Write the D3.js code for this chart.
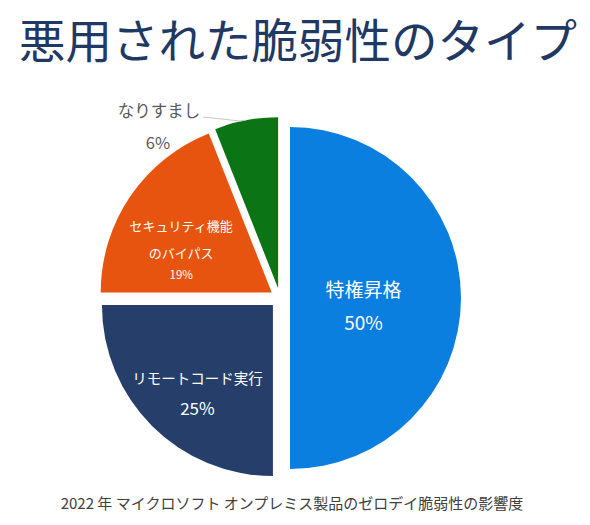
<!DOCTYPE html>
<html>
<head>
<meta charset="utf-8">
<script src="https://cdn.jsdelivr.net/npm/d3@7"></script>
<style>
  body { margin: 0; background: #fff; }
  text { font-family: "Noto Sans CJK JP", "Noto Sans", sans-serif; }
</style>
</head>
<body>
<div id="chart"></div>
<script>
// Data
var categories = ["特権昇格", "リモートコード実行", "セキュリティ機能のバイパス", "なりすまし"];
var values = [50, 25, 19, 6];
var labelLines = [["特権昇格"], ["リモートコード実行"], ["セキュリティ機能", "のバイパス"], ["なりすまし"]];
var colors = ["#0a7fe0", "#263f6a", "#e6540f", "#0b7414"];

var svgWidth = 590;
var svgHeight = 525;

var svg = d3.select("#chart")
  .append("svg")
  .attr("width", svgWidth)
  .attr("height", svgHeight);

// Title
svg.append("text")
  .attr("x", 298)
  .attr("y", 58)
  .attr("text-anchor", "middle")
  .attr("fill", "#1f3864")
  .attr("font-size", 46.5)
  .text("悪用された脆弱性のタイプ");

// Caption
svg.append("text")
  .attr("x", 292)
  .attr("y", 509)
  .attr("text-anchor", "middle")
  .attr("fill", "#404040")
  .attr("font-size", 15)
  .text("2022 年 マイクロソフト オンプレミス製品のゼロデイ脆弱性の影響度");

var cx = 280, cy = 298, radius = 171, explode = 10;

var chartGroup = svg.append("g")
  .attr("transform", `translate(${cx}, ${cy})`);

var pie = d3.pie().sort(null).value(d => d);
var arcs = pie(values);

var arc = d3.arc().innerRadius(0).outerRadius(radius);

function mid(d) { return (d.startAngle + d.endAngle) / 2; }
function shift(d) {
  var a = mid(d);
  return [Math.sin(a) * explode, -Math.cos(a) * explode];
}

// slices
var slices = chartGroup.selectAll("g.slice")
  .data(arcs)
  .enter()
  .append("g")
  .attr("class", "slice")
  .attr("transform", d => `translate(${shift(d)[0]}, ${shift(d)[1]})`);

slices.append("path")
  .attr("d", arc)
  .attr("fill", (d, i) => colors[i]);

// inside labels
var labelR = [0.43, 0.74, 0.64];
var nudge = [[0, -10], [14, -17], [0, 8]];
var labelSize = [19, 14.5, 13];
var pctSize = [19, 17, 11.5];
var lineGap = [33, 30, 27];

arcs.slice(0, 3).forEach(function(d, i) {
  var c = d3.arc().innerRadius(radius * labelR[i]).outerRadius(radius * labelR[i]).centroid(d);
  var s = shift(d);
  var lines = labelLines[i];
  var g = chartGroup.append("g")
    .attr("transform", `translate(${c[0] + s[0] + nudge[i][0]}, ${c[1] + s[1] + nudge[i][1]})`);
  var n = lines.length;
  var top = -((n) * lineGap[i]) / 2;
  lines.forEach(function(t, j) {
    g.append("text")
      .attr("y", top + j * lineGap[i] + lineGap[i] / 2)
      .attr("text-anchor", "middle")
      .attr("dominant-baseline", "central")
      .attr("fill", "#fff")
      .attr("font-size", labelSize[i])
      .text(t);
  });
  g.append("text")
    .attr("y", top + n * lineGap[i] + (i == 2 ? lineGap[i] / 2 - 5 : lineGap[i] / 2))
    .attr("text-anchor", "middle")
    .attr("dominant-baseline", "central")
    .attr("fill", "#fff")
    .attr("font-size", pctSize[i])
    .text(values[i] + "%");
});

// outside label for the small slice
var small = arcs[3];
var sm = shift(small);
var ex = Math.sin(mid(small)) * radius + sm[0];
var ey = -Math.cos(mid(small)) * radius + sm[1];

chartGroup.append("polyline")
  .attr("points", [[-77, -181], [-40, -177], [ex, ey]].map(p => p.join(",")).join(" "))
  .attr("fill", "none")
  .attr("stroke", "#c8c8c8")
  .attr("stroke-width", 1);

chartGroup.append("text")
  .attr("x", -121)
  .attr("y", -188)
  .attr("text-anchor", "middle")
  .attr("dominant-baseline", "central")
  .attr("fill", "#595959")
  .attr("font-size", 16.5)
  .text(labelLines[3][0]);

chartGroup.append("text")
  .attr("x", -122)
  .attr("y", -156)
  .attr("text-anchor", "middle")
  .attr("dominant-baseline", "central")
  .attr("fill", "#595959")
  .attr("font-size", 16.5)
  .text(values[3] + "%");
</script>
</body>
</html>
